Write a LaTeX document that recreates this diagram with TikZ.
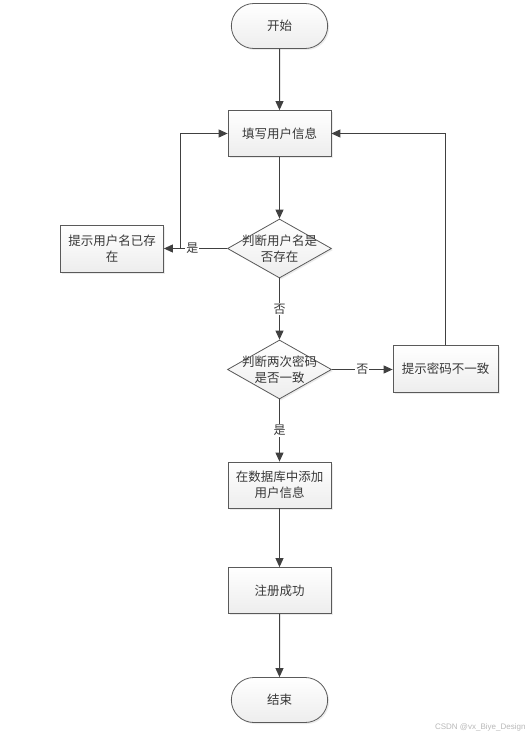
\documentclass[tikz,border=0pt]{standalone}
\usepackage{fontspec}
\newfontfamily\cjk{Noto Sans CJK SC}
\usetikzlibrary{arrows.meta,shapes.geometric,shapes.misc,shadows,calc}
\definecolor{lineclr}{HTML}{404040}
\definecolor{edgeclr}{HTML}{5A5A5A}
\tikzset{
  txt/.style={font=\cjk\fontsize{12.5}{16}\selectfont, text=black!78, align=center},
  base/.style={draw=edgeclr, line width=0.8pt, txt,
    top color=white, bottom color=gray!14, drop shadow={shadow xshift=1.5pt, shadow yshift=-1.5pt, fill=gray!30}},
  procbox/.style={base, rectangle, minimum width=103pt, minimum height=46pt, text width=100pt, inner sep=1pt},
  termbox/.style={base, rounded rectangle, minimum width=103pt, minimum height=45pt},
  decbox/.style={base, diamond, aspect=1.75, minimum width=104pt, minimum height=59pt, inner sep=0pt},
  conn/.style={draw=lineclr, line width=1pt, -{Triangle[length=9pt,width=8pt]}},
  lbl/.style={font=\cjk\fontsize{12}{14}\selectfont, fill=white, inner sep=1pt, text=black!78},
}
\begin{document}
\begin{tikzpicture}[x=1pt,y=-1pt]
\useasboundingbox (0,0) rectangle (532,738);
\fill[white] (0,0) rectangle (532,738);
\node[termbox] (start) at (279.5,26) {开始};
\node[procbox] (fill) at (279.5,133.5) {填写用户信息};
\node[decbox] (d1) at (279.5,248.5) {};
\node[txt] (d1t) at (d1.center) {判断用户名是\\否存在};
\node[procbox, minimum width=103pt, minimum height=47pt] (exist) at (112,248.5) {提示用户名已存\\在};
\node[decbox] (d2) at (279.5,369.5) {};
\node[txt] (d2t) at (d2.center) {判断两次密码\\是否一致};
\node[procbox, minimum width=105pt, minimum height=47pt] (mismatch) at (445.5,369) {提示密码不一致};
\node[procbox] (add) at (279.5,485) {在数据库中添加\\用户信息};
\node[procbox] (ok) at (279.5,590.5) {注册成功};
\node[termbox] (end) at (279.5,700) {结束};
\node[font=\fontspec{Liberation Sans}\fontsize{8}{10}\selectfont, text=gray!55, anchor=east] (wm) at (529,727) {CSDN @vx\_Biye\_Design};

\draw[conn] (start) -- (fill);
\draw[conn] (fill) -- (d1);
\draw[conn] (d1) -- node[lbl, pos=0.55] (l1) {是} (exist.east |- d1);
\coordinate (j1) at (180.5,248.5);
\draw[conn] (j1) |- (fill.west);
\draw[conn] (d1) -- node[lbl] (l2) {否} (d2);
\draw[conn] (d2) -- node[lbl] (l3) {否} (mismatch.west |- d2);
\draw[conn] (mismatch.north) |- (fill.east);
\draw[conn] (d2) -- node[lbl] (l4) {是} (add);
\draw[conn] (add) -- (ok);
\draw[conn] (ok) -- (end);
\end{tikzpicture}
\end{document}
